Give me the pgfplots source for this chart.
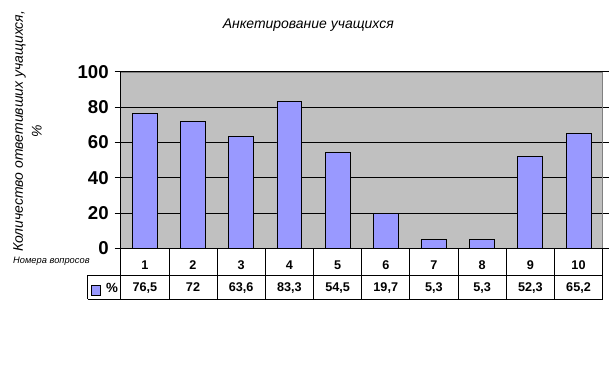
\documentclass[border=0pt]{standalone}
\usepackage{fontspec}
\setmainfont{Liberation Sans}
\usepackage{pgfplots}
\pgfplotsset{compat=1.18}
\definecolor{plotbg}{HTML}{C0C0C0}
\definecolor{barfill}{HTML}{9999FF}
\definecolor{frame}{HTML}{808080}
\begin{document}
\begin{tikzpicture}
\begin{axis}[
  at={(0,0)}, anchor=south west,
  scale only axis,
  width=362.25pt, height=132.75pt,
  xmin=0.5, xmax=10.5, ymin=0, ymax=100,
  ybar, bar width=18.75pt,
  axis background/.style={fill=plotbg},
  axis line style={draw=frame},
  ytick={0,20,40,60,80,100},
  ymajorgrids, grid style={black, line width=0.6pt},
  tick align=outside, major tick length=4.5pt,
  ytick style={black, line width=0.6pt},
  xtick=data, xticklabels={1,2,3,4,5,6,7,8,9,10},
  x tick style={draw=none},
  xticklabel style={anchor=base, inner sep=0pt, yshift=-11.6pt, font=\fontsize{9.5}{10}\selectfont\bfseries},
  yticklabel style={font=\fontsize{14}{16}\selectfont\bfseries, xshift=-1pt},
  /pgf/number format/assume math mode=true,
  clip=false,
]
\addplot[fill=barfill, draw=black, line width=0.6pt] coordinates {
 (1,76.5) (2,72) (3,63.6) (4,83.3) (5,54.5) (6,19.7) (7,5.3) (8,5.3) (9,52.3) (10,65.2)};
\end{axis}
% frame redraw
\draw[black, line width=0.6pt] (0,132.75pt) -- (0,-38.25pt);
\draw[black, line width=0.6pt] (0,0) -- (362.25pt,0);
% data table
\draw[black, line width=0.6pt] (-24.75pt,-20.25pt) -- (362.25pt,-20.25pt);
\draw[black, line width=0.6pt] (-24.75pt,-38.25pt) -- (362.25pt,-38.25pt);
\draw[black, line width=0.6pt] (-24.75pt,-20.25pt) -- (-24.75pt,-38.25pt);
\foreach \i in {1,...,10}{
  \draw[black, line width=0.6pt] (\i*36.225pt,0) -- (\i*36.225pt,-38.25pt);
}
\foreach \v [count=\i] in {76{,}5,72,63{,}6,83{,}3,54{,}5,19{,}7,5{,}3,5{,}3,52{,}3,65{,}2}{
  \node[font=\fontsize{9.5}{10}\selectfont\bfseries, anchor=base, inner sep=0pt] at ({(\i-0.5)*36.225pt},-32.6pt) {\v};
}
\draw[black, fill=barfill, line width=0.5pt] (-21.9pt,-34.9pt) rectangle (-15.1pt,-28.1pt);
\node[font=\fontsize{10}{10}\selectfont\bfseries, anchor=base, inner sep=0pt] at (-6.6pt,-32.8pt) {\%};
% title and labels
\node[font=\fontsize{10.5}{12}\selectfont\itshape] at (141pt,168pt) {Анкетирование учащихся};
\node[font=\fontsize{10.5}{14}\selectfont\itshape, rotate=90, align=center] at (-70.1pt,88pt) {Количество ответивших учащихся,\\\%};
\node[font=\fontsize{7}{8}\selectfont\itshape] at (-52.1pt,-9.75pt) {Номера вопросов};
\path (-90.75pt,-90.75pt) rectangle (366pt,186.75pt);
\end{tikzpicture}
\end{document}
